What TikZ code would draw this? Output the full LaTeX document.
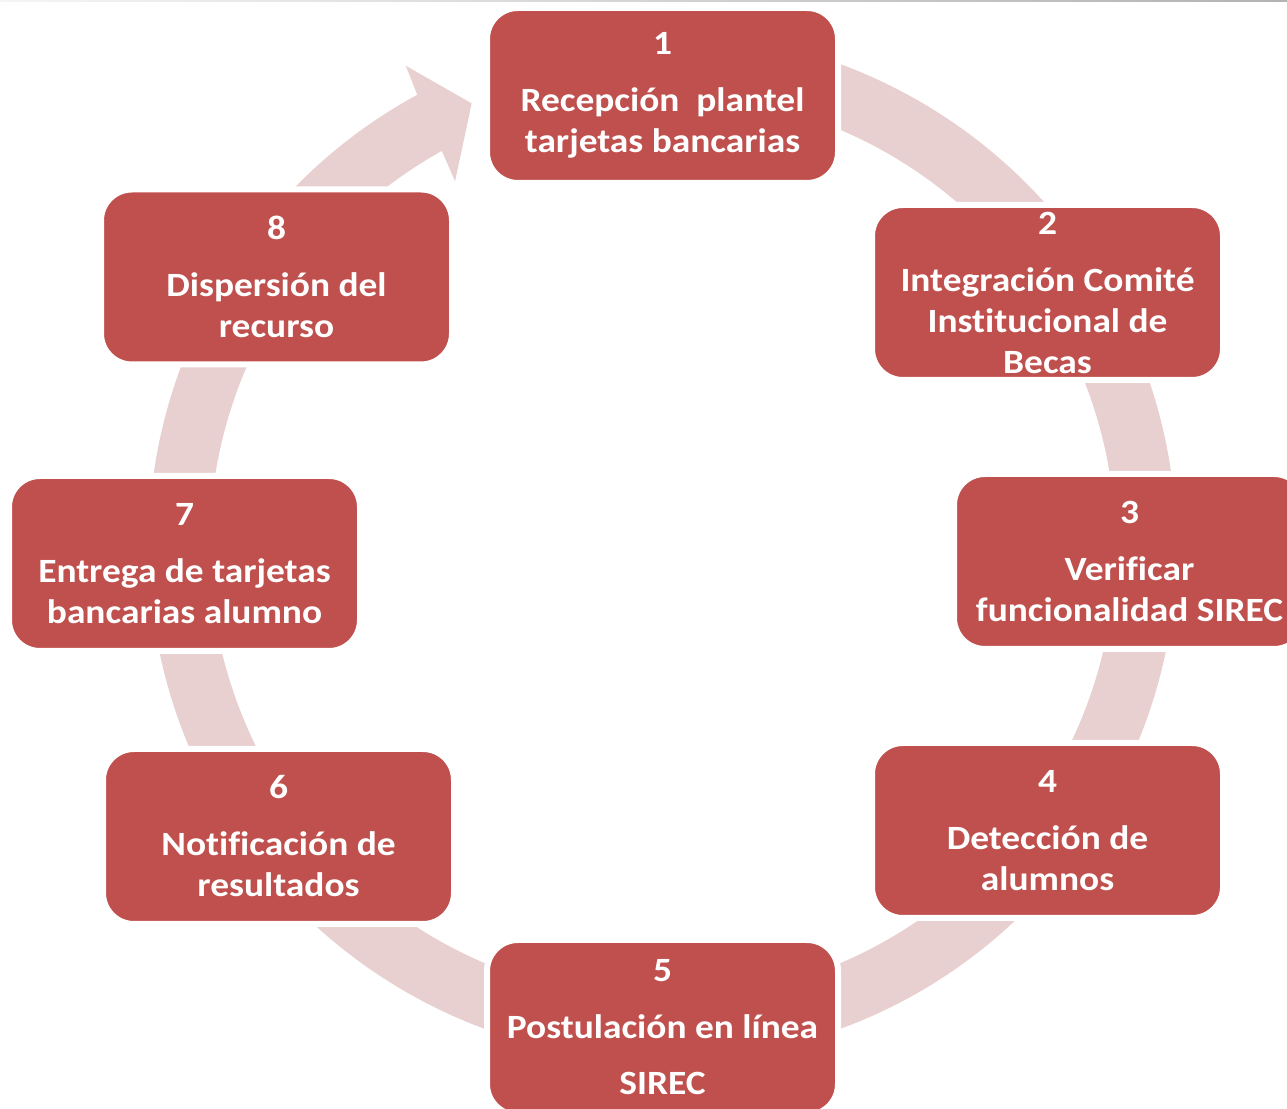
\documentclass[tikz,border=0pt]{standalone}
\usepackage{fontspec}
\setmainfont{Carlito}[FakeStretch=1.10, Ligatures=NoCommon]
\definecolor{boxred}{RGB}{192,80,77}
\definecolor{bandpink}{RGB}{232,208,209}
\begin{document}
\begin{tikzpicture}[x=1pt,y=1pt,
  stepbox/.style={rectangle, rounded corners=31pt, fill=boxred, draw=white, line width=6pt,
    minimum width=351pt, minimum height=175pt, inner sep=0pt, align=center, text=white,
    font=\fontsize{34}{41}\selectfont\bfseries}]
\useasboundingbox (0,0) rectangle (1287,1108);
\clip (0,0) rectangle (1287,1108);
\shade[left color=gray!8,right color=gray!60] (0,1106) rectangle (1287,1108);
\coordinate (c) at (662.5,561.5);
\fill[bandpink] ([shift={(c)}]100:514) arc[start angle=100,end angle=-241.5,radius=514]
  -- ([shift={(c)}]118.1:545) -- ([shift={(c)}]113.3:482.5) -- ([shift={(c)}]119.6:420)
  -- ([shift={(c)}]119.15:453) arc[start angle=-240.85,end angle=100,radius=453] -- cycle;
\node[stepbox] (s1) at (662.5,1012.5) {1\\[16pt]Recepción\ \ plantel\\tarjetas bancarias};
\node[stepbox] (s2) at (1047.5,815.5) {2\\[16pt]Integración Comité\\Institucional de\\Becas};
\node[stepbox] (s3) at (1129.5,546.5) {3\\[16pt]Verificar\\funcionalidad SIREC};
\node[stepbox] (s4) at (1047.5,277.5) {4\\[16pt]Detección de\\alumnos};
\node[stepbox] (s5) at (662.5,80.5) {5\\[16pt]Postulación en línea\\[15pt]SIREC};
\node[stepbox] (s6) at (278.5,271.5) {6\\[16pt]Notificación de\\resultados};
\node[stepbox] (s7) at (184.5,544.5) {7\\[16pt]Entrega de tarjetas\\bancarias alumno};
\node[stepbox] (s8) at (276.5,831) {8\\[16pt]Dispersión del\\recurso};
\end{tikzpicture}
\end{document}
